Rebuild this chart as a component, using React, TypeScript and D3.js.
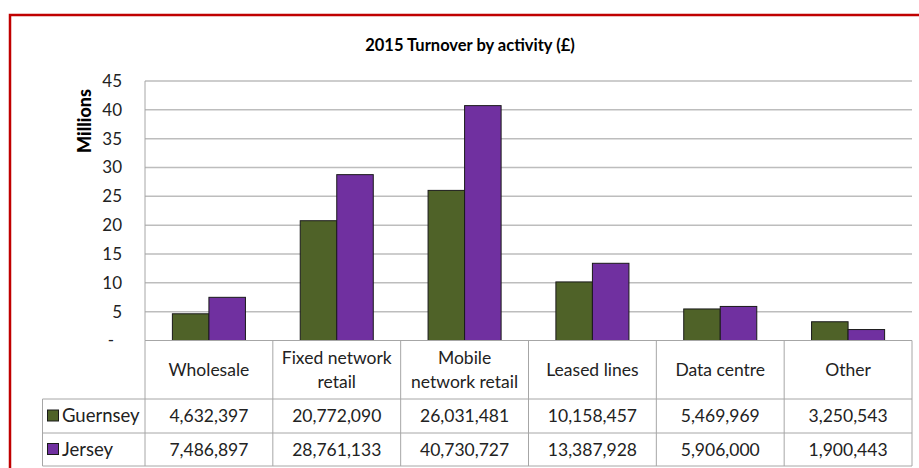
import { useEffect, useRef } from 'react';
import * as d3 from 'd3';

const categories = ['Wholesale', 'Fixed network retail', 'Mobile network retail', 'Leased lines', 'Data centre', 'Other'];
const categoryLines = [['Wholesale'], ['Fixed network', 'retail'], ['Mobile', 'network retail'], ['Leased lines'], ['Data centre'], ['Other']];
const guernsey = [4632397, 20772090, 26031481, 10158457, 5469969, 3250543];
const jersey = [7486897, 28761133, 40730727, 13387928, 5906000, 1900443];
const yTicks = [0, 5, 10, 15, 20, 25, 30, 35, 40, 45];
const seriesNames = ['Guernsey', 'Jersey'];
const seriesColors = ['#4F6228', '#7030A0'];

const FONT = 'Lato, "Open Sans", sans-serif';

export default function App() {
    const svgRef = useRef(null);

    useEffect(() => {
        const svg = d3.select(svgRef.current);
        svg.selectAll('*').remove();

        const width = 919;
        const height = 468;
        const plot = { left: 145, right: 912, top: 81, bottom: 340.5 };

        svg.attr('width', width).attr('height', height);

        // red frame
        svg.append('rect')
            .attr('x', 10).attr('y', 15)
            .attr('width', 940).attr('height', 500)
            .attr('fill', 'white')
            .attr('stroke', '#C00000')
            .attr('stroke-width', 2.5);

        // title
        svg.append('text')
            .attr('x', 470).attr('y', 51)
            .attr('text-anchor', 'middle')
            .style('font-family', FONT)
            .style('font-size', '16.5px')
            .style('font-weight', 'bold')
            .text('2015 Turnover by activity (£)');

        const x = d3.scaleBand()
            .domain(categories)
            .range([plot.left, plot.right])
            .paddingInner(0)
            .paddingOuter(0);

        const y = d3.scaleLinear()
            .domain([0, 45])
            .range([plot.bottom, plot.top]);

        // gridlines
        svg.append('g')
            .selectAll('line')
            .data(yTicks.filter(t => t > 0))
            .enter()
            .append('line')
            .attr('x1', plot.left).attr('x2', plot.right)
            .attr('y1', d => y(d)).attr('y2', d => y(d))
            .attr('stroke', '#BDBDBD')
            .attr('stroke-width', 1.5);

        // left axis line
        svg.append('line')
            .attr('x1', plot.left).attr('x2', plot.left)
            .attr('y1', plot.top).attr('y2', plot.bottom)
            .attr('stroke', '#A6A6A6');

        // tick labels
        svg.append('g')
            .selectAll('text')
            .data(yTicks)
            .enter()
            .append('text')
            .attr('x', d => (d === 0 ? 114 : 122))
            .attr('y', d => y(d))
            .attr('dy', '0.35em')
            .attr('text-anchor', 'end')
            .style('font-family', FONT)
            .style('font-size', '17px')
            .style('fill', '#222')
            .text(d => (d === 0 ? '-' : d));

        // y axis title
        svg.append('text')
            .attr('transform', 'translate(91,121) rotate(-90)')
            .attr('text-anchor', 'middle')
            .style('font-family', FONT)
            .style('font-size', '18px')
            .style('font-weight', 900)
            .text('Millions');

        // bars
        const step = x.bandwidth();
        const barW = step / 3.5;
        const series = [guernsey, jersey];
        series.forEach((vals, si) => {
            svg.append('g')
                .selectAll('rect')
                .data(vals)
                .enter()
                .append('rect')
                .attr('x', (d, i) => x(categories[i]) + barW * 0.75 + si * barW)
                .attr('y', d => y(d / 1e6))
                .attr('width', barW)
                .attr('height', d => plot.bottom - y(d / 1e6))
                .attr('fill', seriesColors[si])
                .attr('stroke', '#1a1a1a')
                .attr('stroke-width', 1);
        });

        // data table
        const tableLeft = 42.5;
        const headerBottom = 399;
        const row1Bottom = 433;
        const row2Bottom = 466;
        const gridColor = '#A6A6A6';
        const tg = svg.append('g');

        // horizontal lines
        tg.append('line').attr('x1', plot.left).attr('x2', plot.right)
            .attr('y1', plot.bottom).attr('y2', plot.bottom).attr('stroke', gridColor);
        [headerBottom, row1Bottom, row2Bottom].forEach(yy => {
            tg.append('line').attr('x1', tableLeft).attr('x2', plot.right)
                .attr('y1', yy).attr('y2', yy).attr('stroke', gridColor);
        });
        // vertical lines
        tg.append('line').attr('x1', tableLeft).attr('x2', tableLeft)
            .attr('y1', headerBottom).attr('y2', row2Bottom).attr('stroke', gridColor);
        const bounds = categories.map(c => x(c)).concat([plot.right]);
        tg.selectAll('line.v')
            .data(bounds)
            .enter()
            .append('line')
            .attr('class', 'v')
            .attr('x1', d => d).attr('x2', d => d)
            .attr('y1', plot.bottom).attr('y2', row2Bottom)
            .attr('stroke', gridColor);

        // header labels
        categories.forEach((c, i) => {
            const lines = categoryLines[i];
            const cx = x(c) + step / 2;
            const mid = (plot.bottom + headerBottom) / 2;
            const lh = 24;
            lines.forEach((ln, li) => {
                tg.append('text')
                    .attr('x', cx)
                    .attr('y', mid + (li - (lines.length - 1) / 2) * lh)
                    .attr('dy', '0.35em')
                    .attr('text-anchor', 'middle')
                    .style('font-family', FONT)
                    .style('font-size', '17.5px')
                    .style('fill', '#222')
                    .text(ln);
            });
        });

        // value rows
        const fmt = d3.format(',');
        const rowMids = [(headerBottom + row1Bottom) / 2, (row1Bottom + row2Bottom) / 2];
        series.forEach((vals, si) => {
            tg.append('g')
                .selectAll('text')
                .data(vals)
                .enter()
                .append('text')
                .attr('x', (d, i) => x(categories[i]) + step / 2)
                .attr('y', rowMids[si])
                .attr('dy', '0.35em')
                .attr('text-anchor', 'middle')
                .style('font-family', FONT)
                .style('font-size', '17.5px')
                .style('fill', '#222')
                .text(d => fmt(d));

            tg.append('rect')
                .attr('x', 47.5).attr('y', rowMids[si] - 6)
                .attr('width', 11).attr('height', 11)
                .attr('fill', seriesColors[si])
                .attr('stroke', '#1a1a1a')
                .attr('stroke-width', 1);

            tg.append('text')
                .attr('x', 62)
                .attr('y', rowMids[si])
                .attr('dy', '0.35em')
                .style('font-family', FONT)
                .style('font-size', '18.5px')
                .style('fill', '#222')
                .text(seriesNames[si]);
        });
    }, []);

    return (
        <div style={{ position: 'fixed', left: 0, top: 0, width: 919, height: 468, overflow: 'hidden', background: 'white' }}>
            <svg ref={svgRef} width={919} height={468} style={{ display: 'block' }}></svg>
        </div>
    );
}
